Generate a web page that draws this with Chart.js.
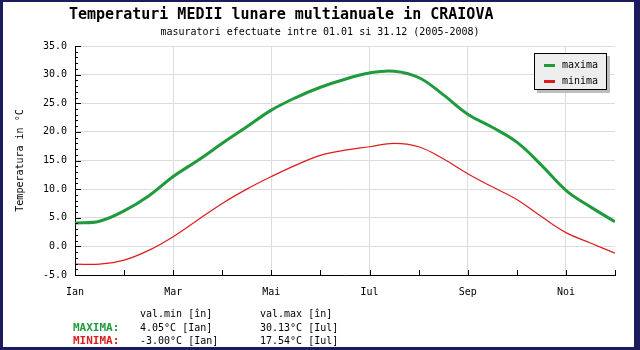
<!DOCTYPE html>
<html><head><meta charset="utf-8">
<script src="https://cdn.jsdelivr.net/npm/chart.js@4"></script>
<style>
html,body{margin:0;padding:0;background:#fff;}
#wrap{position:relative;width:640px;height:350px;overflow:hidden;background:#fff;font-family:"DejaVu Sans Mono",monospace;color:#000;}
canvas{position:absolute;left:0;top:0;}
.t{position:absolute;white-space:pre;line-height:12px;font-size:10px;}
#title{position:absolute;left:69px;top:5px;font-size:15px;font-weight:bold;line-height:18px;white-space:pre;}
#sub{position:absolute;left:0;width:640px;text-align:center;top:26px;font-size:10px;line-height:12px;white-space:pre;}
#legend{position:absolute;left:534px;top:53px;width:71px;height:35px;background:#eeeeee;border:1px solid #000;box-shadow:3px 3px 0 #bdbdbd;}
#legend .row{position:absolute;left:0;height:12px;line-height:12px;font-size:10px;}
#legend .mk{position:absolute;left:9px;top:5px;width:11px;height:3px;}
#legend .lb{position:absolute;left:27px;top:0;}
#frame{position:absolute;left:0;top:0;width:640px;height:350px;box-sizing:border-box;border-style:solid;border-color:#1b1b5e;border-width:2px 6px 3px 3px;pointer-events:none;}
</style></head>
<body>
<div id="wrap">
<canvas id="c" width="640" height="350"></canvas>
<div id="title">Temperaturi MEDII lunare multianuale in CRAIOVA</div>
<div id="sub">masuratori efectuate intre 01.01 si 31.12 (2005-2008)</div>
<div id="legend">
  <div class="row" style="top:5px;width:71px"><div class="mk" style="background:#1f9a3c"></div><span class="lb">maxima</span></div>
  <div class="row" style="top:21px;width:71px"><div class="mk" style="background:#dd1c1c"></div><span class="lb">minima</span></div>
</div>
<div class="t" style="left:140px;top:308px">val.min [în]</div>
<div class="t" style="left:260px;top:308px">val.max [în]</div>
<div class="t" style="left:73px;top:322px;color:#1f9a3c;font-weight:bold;font-size:11px">MAXIMA:</div>
<div class="t" style="left:140px;top:322px">4.05°C [Ian]</div>
<div class="t" style="left:260px;top:322px">30.13°C [Iul]</div>
<div class="t" style="left:73px;top:335px;color:#dd1c1c;font-weight:bold;font-size:11px">MINIMA:</div>
<div class="t" style="left:140px;top:335px">-3.00°C [Ian]</div>
<div class="t" style="left:260px;top:335px">17.54°C [Iul]</div>
<div id="frame"></div>
</div>
<script>
const monthNames = ['Ian','Feb','Mar','Apr','Mai','Iun','Iul','Aug','Sep','Oct','Noi','Dec'];
const samplePos = [0,0.5,1,1.5,2,2.5,3,3.5,4,4.5,5,5.5,6,6.5,7,7.5,8,8.5,9,9.5,10,10.5,11];
const maxima = [4.1,4.4,6.2,8.8,12.2,15.0,18.0,20.9,23.8,26.0,27.8,29.2,30.3,30.6,29.5,26.5,23.1,20.8,18.2,14.2,9.8,6.9,4.3];
const minima = [-3.1,-3.1,-2.4,-0.7,1.7,4.6,7.5,10.0,12.2,14.2,15.9,16.8,17.4,18.0,17.4,15.3,12.7,10.4,8.2,5.2,2.4,0.6,-1.2];
const F = "'DejaVu Sans Mono', monospace";

const inTicks = {
  id: 'inTicks',
  afterDraw(chart) {
    const {ctx, chartArea: a, scales: {x, y}} = chart;
    ctx.save();
    ctx.strokeStyle = '#000';
    ctx.lineWidth = 1;
    ctx.beginPath();
    for (let v = y.min; v <= y.max; v++) {
      const p = Math.round(y.getPixelForValue(v)) + 0.5;
      const len = (v % 5 === 0) ? 6 : 3;
      ctx.moveTo(a.left, p); ctx.lineTo(a.left + len, p);
    }
    for (let m = x.min; m <= x.max; m++) {
      const p = Math.round(x.getPixelForValue(m)) + 0.5;
      ctx.moveTo(p, a.bottom); ctx.lineTo(p, a.bottom - 5);
    }
    ctx.stroke();
    ctx.restore();
  }
};

new Chart(document.getElementById('c'), {
  type: 'line',
  data: {
    datasets: [
      {label: 'maxima', data: samplePos.map((x, i) => ({x, y: maxima[i]})), borderColor: '#1f9a3c', borderWidth: 3, pointRadius: 0, tension: 0.4, fill: false},
      {label: 'minima', data: samplePos.map((x, i) => ({x, y: minima[i]})), borderColor: '#dd1c1c', borderWidth: 1.2, pointRadius: 0, tension: 0.4, fill: false}
    ]
  },
  options: {
    responsive: false,
    animation: false,
    devicePixelRatio: 1,
    layout: {padding: {left: 0, top: 46, right: 25, bottom: 0}},
    plugins: {legend: {display: false}, tooltip: {enabled: false}},
    scales: {
      x: {
        type: 'linear', min: 0, max: 11,
        afterFit(s) { s.height = 75; },
        ticks: {stepSize: 1, autoSkip: false, maxRotation: 0, padding: 11, color: '#000', font: {family: F, size: 10},
          callback: (v) => (v % 2 === 0 ? monthNames[v] : '')},
        grid: {drawTicks: false, color: (c) => (c.tick && c.tick.value % 2 === 0) ? '#dcdcdc' : 'rgba(0,0,0,0)', lineWidth: 1},
        border: {color: '#000'}
      },
      y: {
        min: -5, max: 35,
        afterFit(s) { s.width = 75; },
        ticks: {stepSize: 5, padding: 8, color: '#000', font: {family: F, size: 10}, callback: (v) => v.toFixed(1)},
        grid: {drawTicks: false, color: '#dcdcdc'},
        border: {color: '#000'},
        title: {display: true, text: 'Temperatura in °C', color: '#000', font: {family: F, size: 10}, padding: {top: 14, bottom: 0}}
      }
    }
  },
  plugins: [inTicks]
});
</script>
</body></html>
